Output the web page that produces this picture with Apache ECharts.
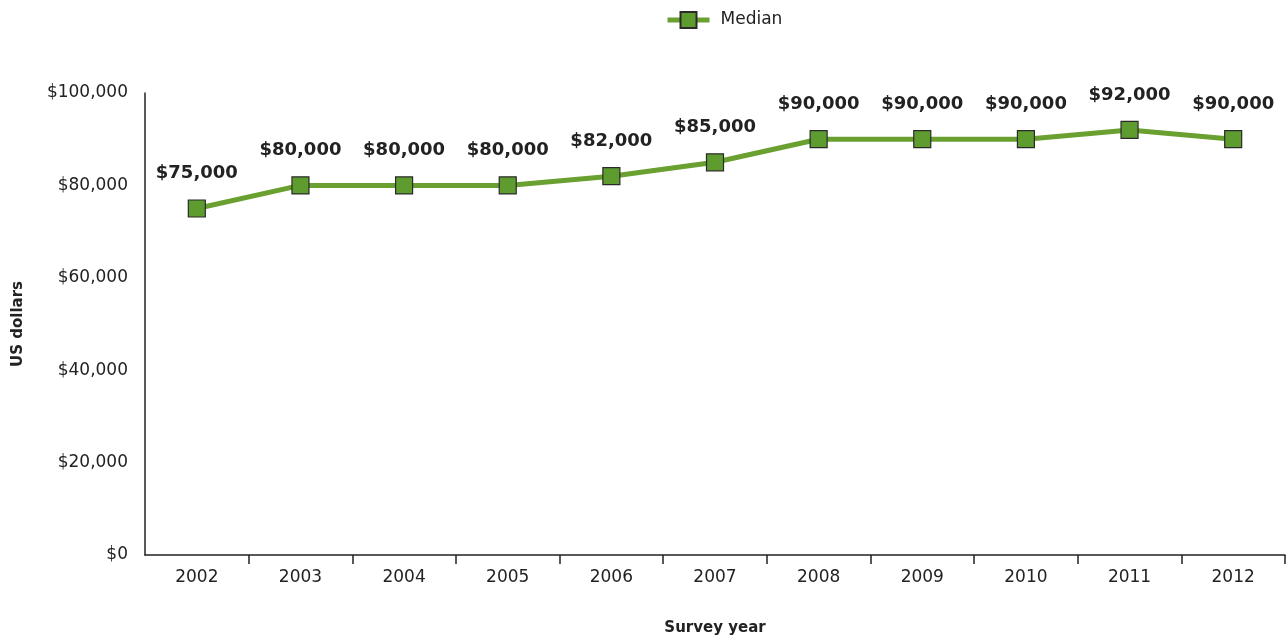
<!DOCTYPE html>
<html>
<head>
<meta charset="utf-8">
<script src="https://cdn.jsdelivr.net/npm/echarts@6/dist/echarts.min.js"></script>
<style>
  html, body { margin: 0; padding: 0; background: #fff; }
  #chart { width: 1288px; height: 641px; }
</style>
</head>
<body>
<div id="chart"></div>
<script>
// Survey years and median salary (US dollars)
const years = ['2002','2003','2004','2005','2006','2007','2008','2009','2010','2011','2012'];
const median = [75000, 80000, 80000, 80000, 82000, 85000, 90000, 90000, 90000, 92000, 90000];
const yTicks = [0, 20000, 40000, 60000, 80000, 100000];

const fontFamily = '"DejaVu Sans", sans-serif';
const money = v => '$' + v.toLocaleString('en-US');

const chart = echarts.init(document.getElementById('chart'));
chart.setOption({
  animation: false,
  textStyle: { fontFamily: fontFamily },
  legend: {
    top: 6,
    left: 660,
    itemWidth: 42,
    itemHeight: 20,
    textStyle: { fontSize: 17, color: '#222', fontFamily: fontFamily, padding: [0, 0, 0, 6] },
    lineStyle: { width: 5 },
    data: ['Median']
  },
  grid: { left: 145, right: 3, top: 93, bottom: 86 },
  xAxis: {
    type: 'category',
    data: years,
    boundaryGap: true,
    name: 'Survey year',
    nameLocation: 'middle',
    nameGap: 66,
    nameTextStyle: { fontSize: 15, fontWeight: 'bold', color: '#222' },
    axisLine: { lineStyle: { color: '#222', width: 1.5 } },
    axisTick: {
      show: true,
      length: 9,
      interval: (i) => i !== 0,
      lineStyle: { color: '#222', width: 1.5 }
    },
    axisLabel: { fontSize: 17, color: '#222', margin: 14 }
  },
  yAxis: {
    type: 'value',
    min: yTicks[0],
    max: yTicks[yTicks.length - 1],
    interval: 20000,
    name: 'US dollars',
    nameLocation: 'middle',
    nameGap: 119,
    nameRotate: 90,
    nameTextStyle: { fontSize: 15, fontWeight: 'bold', color: '#222' },
    axisLine: { show: true, lineStyle: { color: '#222', width: 1.5 } },
    axisTick: { show: false },
    splitLine: { show: false },
    axisLabel: { fontSize: 17, color: '#222', margin: 17, formatter: money }
  },
  series: [{
    name: 'Median',
    type: 'line',
    data: median,
    symbol: 'rect',
    symbolSize: 17,
    lineStyle: { color: '#69a030', width: 5 },
    itemStyle: { color: '#5e9c30', borderColor: '#2a2a2a', borderWidth: 1.2 },
    label: {
      show: true,
      position: 'top',
      distance: 17,
      fontSize: 18,
      fontWeight: 'bold',
      color: '#222',
      formatter: p => money(p.value)
    }
  }]
});
</script>
</body>
</html>
